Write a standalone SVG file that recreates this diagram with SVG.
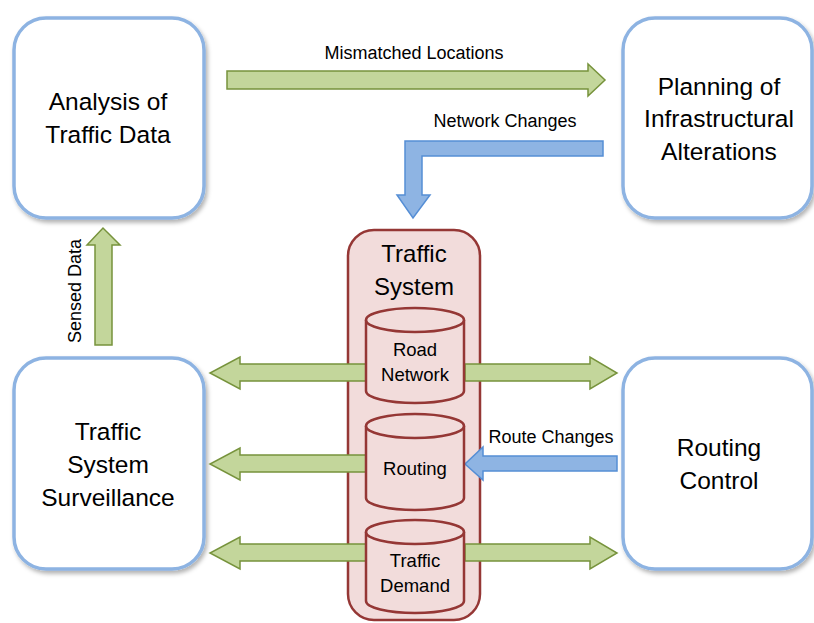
<svg xmlns="http://www.w3.org/2000/svg" width="814" height="623" viewBox="0 0 814 623">
<defs>
<filter id="sh" x="-10%" y="-10%" width="130%" height="130%">
<feDropShadow dx="2" dy="3" stdDeviation="2" flood-color="#000" flood-opacity="0.3"/>
</filter>
</defs>
<style>
.box{fill:#fff;stroke:#8DB3E2;stroke-width:3.5}
.t{font-family:"Liberation Sans",Arial,sans-serif;fill:#000;text-anchor:middle}
.big{font-size:24.5px}
.ttl{font-size:24px}
.mid{font-size:18.5px}
.sm{font-size:18px}
.g{fill:#C3D69B;stroke:#77933C;stroke-width:1.5}
.b{fill:#8EB4E3;stroke:#558ED5;stroke-width:1.5}
.sys{fill:#F2DCDB;stroke:#953735;stroke-width:2.5}
.cyl{fill:#F2DCDB;stroke:#953735;stroke-width:2.5}
</style>
<rect width="814" height="623" fill="#fff"/>

<g id="analysis">
<rect class="box" x="14" y="18" width="190" height="200" rx="32" filter="url(#sh)"/>
<text class="t big" x="108" y="110">Analysis of</text>
<text class="t big" x="108" y="143">Traffic Data</text>
</g>

<g id="planning">
<rect class="box" x="623" y="18" width="189" height="200" rx="32" filter="url(#sh)"/>
<text class="t big" x="719" y="95">Planning of</text>
<text class="t big" x="719" y="127">Infrastructural</text>
<text class="t big" x="719" y="160">Alterations</text>
</g>

<g id="surveillance">
<rect class="box" x="14" y="358" width="190" height="211" rx="32" filter="url(#sh)"/>
<text class="t big" x="108" y="440">Traffic</text>
<text class="t big" x="108" y="473">System</text>
<text class="t big" x="108" y="506">Surveillance</text>
</g>

<g id="routing-control">
<rect class="box" x="623" y="358" width="189" height="211" rx="32" filter="url(#sh)"/>
<text class="t big" x="719" y="456">Routing</text>
<text class="t big" x="719" y="489">Control</text>
</g>

<g id="traffic-system">
<rect class="sys" x="348" y="230" width="132" height="390" rx="26"/>
<text class="t ttl" x="414" y="262">Traffic</text>
<text class="t ttl" x="414" y="295">System</text>
</g>

<g id="connectors">
<polygon class="g" points="227,71 588,71 588,64 605,80 588,96 588,89 227,89"/>
<text class="t sm" x="414" y="59">Mismatched Locations</text>
<polygon class="b" points="603,141 405,141 405,195 397,195 413,218 430,195 422,195 422,156 603,156"/>
<text class="t sm" x="505" y="127">Network Changes</text>
<polygon class="g" points="95,345 95,245 87,245 103,228 120,245 112,245 112,345"/>
<text class="t sm" transform="translate(81,291) rotate(-90)">Sensed Data</text>
<polygon class="g" points="366,364 240,364 240,357 210,373 240,389 240,381 366,381"/>
<polygon class="g" points="465,364 590,364 590,357 617,373 590,389 590,381 465,381"/>
<polygon class="g" points="366,455 240,455 240,448 210,464 240,480 240,472 366,472"/>
<polygon class="b" points="617,456 483,456 483,447 465,464 483,480 483,471 617,471"/>
<text class="t sm" x="551" y="443">Route Changes</text>
<polygon class="g" points="366,544 240,544 240,537 210,553 240,569 240,561 366,561"/>
<polygon class="g" points="465,544 590,544 590,537 617,553 590,569 590,561 465,561"/>
</g>

<g id="road-network">
<path class="cyl" d="M366,320 L366,391 A49,12 0 0 0 464,391 L464,320"/>
<ellipse class="cyl" cx="415" cy="320" rx="49" ry="12"/>
<text class="t mid" x="415" y="356">Road</text>
<text class="t mid" x="415" y="381">Network</text>
</g>

<g id="routing">
<path class="cyl" d="M366,426 L366,498 A49,12 0 0 0 464,498 L464,426"/>
<ellipse class="cyl" cx="415" cy="426" rx="49" ry="12"/>
<text class="t mid" x="415" y="475">Routing</text>
</g>

<g id="traffic-demand">
<path class="cyl" d="M366,532 L366,601 A49,12 0 0 0 464,601 L464,532"/>
<ellipse class="cyl" cx="415" cy="532" rx="49" ry="12"/>
<text class="t mid" x="415" y="567">Traffic</text>
<text class="t mid" x="415" y="592">Demand</text>
</g>
</svg>
